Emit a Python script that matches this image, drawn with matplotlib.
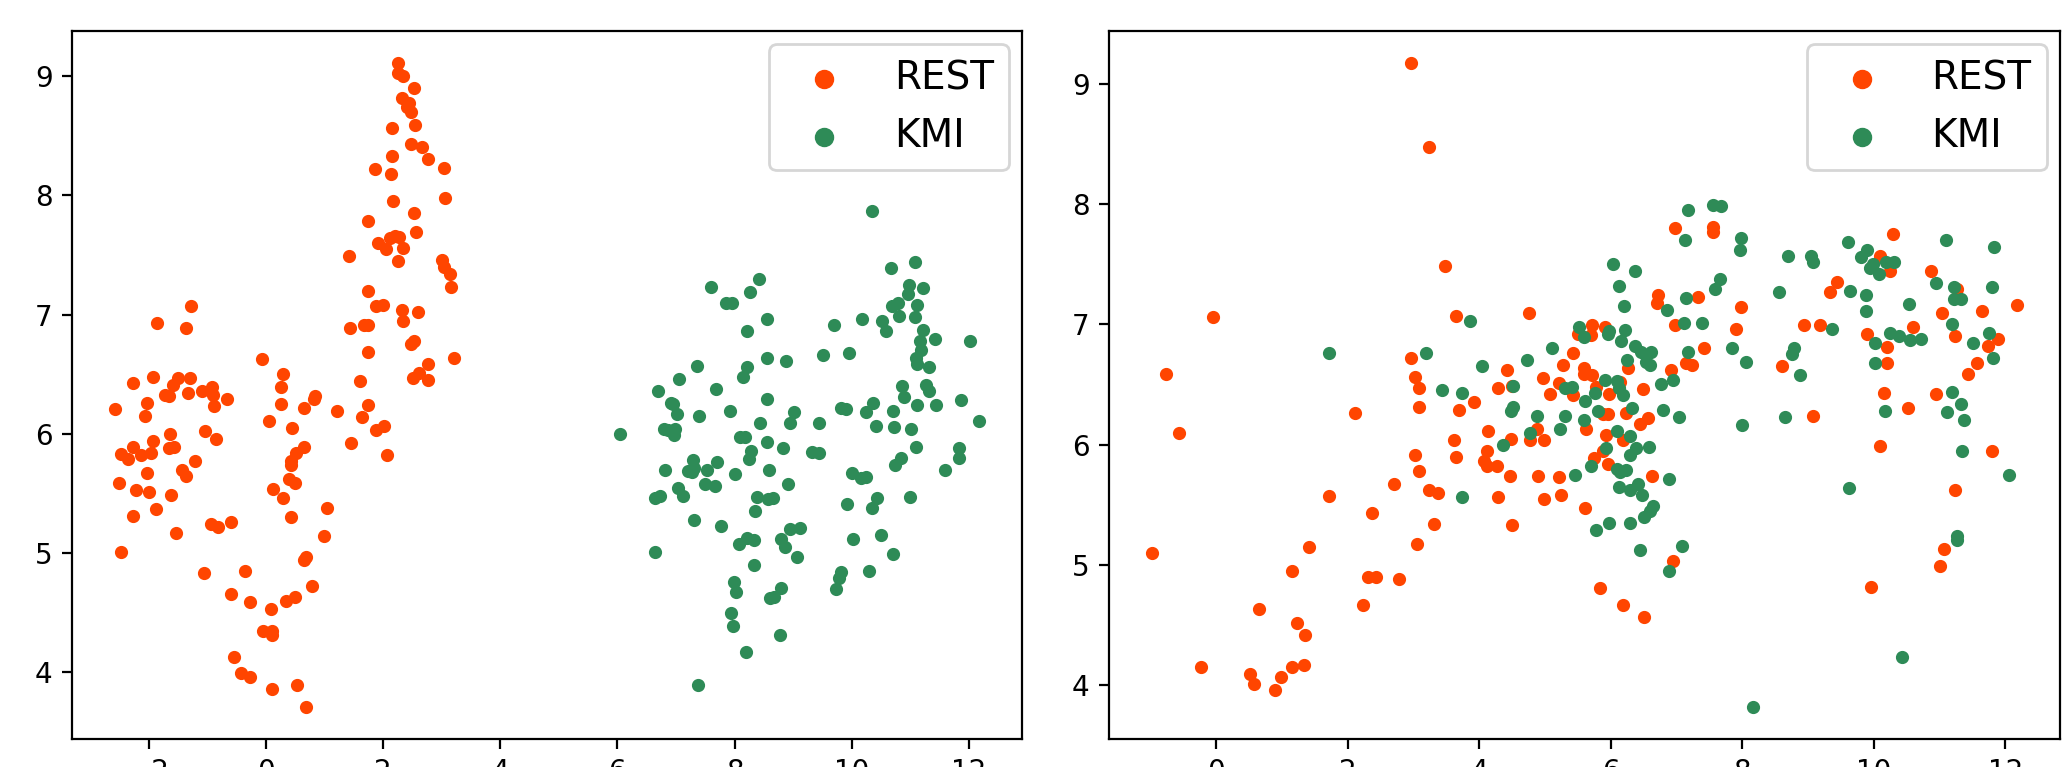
import matplotlib
matplotlib.use("Agg")
import matplotlib.pyplot as plt

# ---- left panel (embedding A) ----
left_rest_x = [2.26, 2.25, 2.34, 2.53, 2.32, 2.45, 2.41, 2.47, 2.54, 2.16, 2.15, 2.47, 2.67, 2.76,
               3.05, 1.87, 2.13, 3.06, 2.17, 2.53, 1.74, 2.57, 1.91, 2.12, 2.21, 2.27, 2.06, 2.35,
               2.25, 1.42, 3.01, 3.05, 3.15, 3.16, 1.74, 1.88, 2.00, 2.32, 2.60, 2.35, 1.43, 1.67,
               1.74, 1.74, 2.47, 2.53, 2.76, 2.61, 2.51, 2.77, 3.21, 1.60, 1.74, 1.65, 1.45, 1.88,
               2.01, 2.07, 1.21,
               -2.57, -2.47, -2.26, -2.35, -2.51, -2.21, -2.26, -2.47, -2.03, -2.06, -2.13, -1.96,
               -1.93, -2.03, -2.00, -1.87, -1.86, -1.92, -2.26, -1.72, -1.65, -1.58, -1.49, -1.29,
               -1.37, -1.28, -1.64, -1.65, -1.57, -1.61, -1.54, -1.43, -1.36, -1.20, -1.32, -1.09,
               -0.91, -0.90, -0.88, -0.67, -1.04, -0.85, -0.94, -0.81, -0.59, -1.06,
               -0.06, 0.05, 0.29, 0.26, 0.26, 0.44, 0.65, 0.84, 0.83, 0.66, 0.51, 0.43, 0.43, 0.40,
               0.50, 0.12, 0.29, 0.43, 1.04, 0.99, 0.68, 0.65, 0.79, 0.50, 0.35, 0.09, -0.35, -0.60,
               -0.27, -0.54, -0.43, -0.27, -0.05, 0.11, 0.10, 0.11, 0.53, 0.68]
left_rest_y = [9.11, 9.03, 9.00, 8.90, 8.82, 8.78, 8.74, 8.70, 8.59, 8.57, 8.33, 8.43, 8.41, 8.31,
               8.23, 8.22, 8.18, 7.98, 7.95, 7.85, 7.79, 7.69, 7.60, 7.64, 7.66, 7.65, 7.55, 7.56,
               7.45, 7.49, 7.46, 7.40, 7.34, 7.23, 7.20, 7.07, 7.08, 7.04, 7.02, 6.95, 6.89, 6.91,
               6.91, 6.69, 6.75, 6.78, 6.59, 6.51, 6.47, 6.45, 6.64, 6.44, 6.24, 6.14, 5.92, 6.03,
               6.07, 5.82, 6.19,
               6.21, 5.83, 5.89, 5.79, 5.59, 5.53, 5.31, 5.01, 6.26, 6.15, 5.82, 5.84,
               5.94, 5.67, 5.51, 5.37, 6.93, 6.48, 6.43, 6.33, 6.32, 6.41, 6.47, 6.47,
               6.89, 7.07, 6.00, 5.88, 5.89, 5.49, 5.17, 5.70, 5.65, 5.77, 6.34, 6.36,
               6.39, 6.33, 6.23, 6.29, 6.02, 5.96, 5.24, 5.22, 5.26, 4.83,
               6.63, 6.11, 6.50, 6.39, 6.25, 6.05, 6.22, 6.32, 6.29, 5.89, 5.84, 5.77, 5.74, 5.62,
               5.59, 5.54, 5.46, 5.30, 5.38, 5.14, 4.97, 4.94, 4.72, 4.63, 4.60, 4.53, 4.85, 4.66,
               4.59, 4.13, 3.99, 3.96, 4.35, 4.35, 4.31, 3.86, 3.89, 3.71]

left_kmi_x = [6.05, 6.70, 7.06, 7.36, 6.91, 6.95, 7.01, 7.39, 6.79, 6.86, 6.98, 6.96, 6.82, 7.29,
              7.20, 7.27, 7.31, 7.03, 7.12, 6.64, 6.72, 6.64, 7.30, 7.37,
              7.60, 7.86, 7.95, 8.26, 8.41, 8.21, 8.56, 8.56, 8.88, 8.22, 8.15, 7.68, 7.92, 8.56,
              9.02, 8.44, 8.95, 8.09, 8.18, 8.28, 8.24, 8.56, 8.82, 7.70, 7.53, 8.01, 8.59, 7.50,
              7.67, 8.92, 8.39, 8.57, 8.66, 8.35, 7.77, 8.07, 8.22, 8.33, 8.80, 8.86, 8.95, 9.12,
              9.07, 8.33, 7.99, 8.02, 8.80, 8.61, 8.67, 7.94, 7.97, 8.78, 8.19, 9.32, 9.44, 9.44,
              9.51, 9.70, 9.96, 10.17, 10.35, 10.67, 11.08, 10.97, 10.96, 11.22, 10.68, 10.79,
              11.11, 10.80, 11.08, 10.52, 10.58, 11.22, 11.17, 11.42, 11.19, 11.10, 11.11, 11.31,
              12.02, 10.86, 10.89, 11.27, 11.32, 11.12, 11.43, 11.86, 12.17, 9.81, 9.90, 10.24,
              10.37, 10.41, 10.70, 10.72, 11.01, 11.09, 11.83, 11.83, 10.84, 10.73, 11.59, 10.01,
              10.15, 10.25, 9.92, 10.35, 10.43, 11.00, 10.02, 10.50, 10.71, 10.29, 9.82, 9.78, 9.73]
left_kmi_y = [6.00, 6.36, 6.46, 6.57, 6.26, 6.25, 6.17, 6.15, 6.04, 6.03, 6.04, 5.99, 5.70, 5.78,
              5.69, 5.68, 5.71, 5.55, 5.48, 5.46, 5.48, 5.01, 5.28, 3.89,
              7.23, 7.10, 7.10, 7.19, 7.30, 6.86, 6.96, 6.64, 6.61, 6.56, 6.48, 6.38, 6.19, 6.29,
              6.18, 6.09, 6.09, 5.97, 5.97, 5.86, 5.79, 5.93, 5.88, 5.76, 5.70, 5.66, 5.70, 5.58,
              5.56, 5.58, 5.47, 5.45, 5.46, 5.35, 5.23, 5.08, 5.13, 5.11, 5.12, 5.05, 5.20, 5.21,
              4.97, 4.90, 4.76, 4.67, 4.71, 4.62, 4.63, 4.50, 4.39, 4.31, 4.17, 5.85, 5.84, 6.09,
              6.66, 6.91, 6.68, 6.96, 7.87, 7.39, 7.44, 7.25, 7.17, 7.22, 7.07, 7.10,
              7.08, 6.99, 6.98, 6.95, 6.86, 6.87, 6.78, 6.80, 6.70, 6.64, 6.59, 6.56,
              6.78, 6.40, 6.31, 6.41, 6.36, 6.24, 6.24, 6.28, 6.11, 6.22, 6.21, 6.18,
              6.26, 6.07, 6.19, 6.06, 6.04, 5.89, 5.88, 5.80, 5.80, 5.74, 5.70, 5.67,
              5.63, 5.64, 5.41, 5.38, 5.46, 5.47, 5.12, 5.15, 4.99, 4.85, 4.84, 4.79, 4.70]

# ---- right panel (embedding B) ----
right_rest_x = [2.96, 3.23, 3.48, 3.65, -0.05, 4.76, -0.76, -0.57, -0.97, 2.97, 3.02, 3.08, 3.09,
                2.11, 3.70, 3.92, 3.61, 3.65, 3.03, 3.08, 2.70, 3.24, 3.38, 1.72, 2.37, 3.32, 3.06,
                1.42, 1.16, 2.31, 2.43, 2.78, 2.23, 0.65, 1.23, 1.35, -0.23, 0.51, 0.57, 0.89, 0.99,
                1.16, 1.33, 4.13, 4.12, 4.07, 4.12, 4.27, 4.47, 4.28, 4.50, 4.49, 4.28, 4.43, 4.50,
                4.77, 4.88, 4.99, 4.97, 5.07, 5.22, 5.28, 5.43, 5.50, 5.43, 4.89, 5.22, 5.25, 4.99,
                5.71, 5.91, 5.70, 5.59, 5.59, 5.71, 5.78, 5.98, 5.96, 5.88, 5.63, 5.93, 6.18, 5.75,
                5.88, 5.96, 5.61, 5.83, 6.18, 6.50, 6.63, 6.45, 6.56, 6.23, 6.49, 6.26, 6.14, 6.91,
                7.14, 7.23, 7.42, 6.98, 6.72, 6.71, 7.33, 6.97, 7.56, 7.56, 7.98, 7.91, 8.60, 8.93,
                9.18, 9.07, 6.95, 9.33, 9.44, 9.90, 10.10, 10.29, 10.25, 10.20, 10.20, 10.16, 10.52,
                10.09, 10.59, 9.95, 10.87, 11.04, 11.26, 11.24, 10.95, 11.65, 11.43, 11.56, 11.73,
                11.89, 12.17, 11.79, 11.23, 11.07, 11.01]
right_rest_y = [9.17, 8.47, 7.48, 7.07, 7.06, 7.09, 6.59, 6.10, 5.10, 6.72, 6.56, 6.47, 6.31,
                6.26, 6.29, 6.35, 6.04, 5.90, 5.91, 5.78, 5.67, 5.62, 5.60, 5.57, 5.43, 5.34, 5.17,
                5.15, 4.95, 4.90, 4.90, 4.88, 4.67, 4.63, 4.52, 4.42, 4.15, 4.09, 4.01, 3.96, 4.07,
                4.15, 4.17, 6.11, 5.95, 5.86, 5.82, 5.82, 5.74, 5.56, 5.33, 6.05, 6.47, 6.62, 6.49,
                6.04, 6.13, 6.04, 6.55, 6.42, 6.51, 6.66, 6.76, 6.92, 6.41, 5.74, 5.73, 5.58, 5.55,
                6.99, 6.98, 6.91, 6.64, 6.59, 6.58, 6.48, 6.42, 6.25, 6.25, 6.13, 6.08, 6.04, 5.89,
                5.95, 5.84, 5.47, 4.81, 4.67, 4.57, 5.74, 6.17, 6.22, 6.26, 6.46, 6.64, 6.52, 6.62,
                6.68, 6.66, 6.80, 6.99, 7.24, 7.18, 7.23, 7.80, 7.81, 7.77, 7.14, 6.96, 6.65, 6.99,
                6.99, 6.24, 5.03, 7.27, 7.35, 6.92, 7.57, 7.75, 7.44, 6.81, 6.68, 6.43, 6.30,
                5.99, 6.98, 4.82, 7.44, 7.09, 7.29, 6.90, 6.42, 7.11, 6.59, 6.68, 6.82,
                6.88, 7.16, 5.95, 5.62, 5.13, 4.99]

right_kmi_x = [1.72, 3.19, 3.86, 3.43, 3.74, 4.05, 4.72, 5.10, 4.52, 4.48, 4.52, 4.88, 4.77, 4.36,
               5.31, 5.23, 5.31, 5.41, 3.74, 5.45, 5.52,
               5.59, 5.98, 5.96, 6.15, 6.21, 6.04, 6.37, 6.12, 6.20, 6.86, 7.14, 7.12, 7.38, 7.58,
               7.66, 7.13, 7.17, 7.55, 7.67, 7.98, 7.97, 8.69, 9.04, 9.08, 8.55, 7.84, 8.06, 7.18,
               6.37, 6.46, 6.61, 6.53, 6.59, 6.25, 5.92, 6.09, 6.13, 6.18, 5.76, 5.61, 5.80, 5.59,
               6.32, 6.80, 6.77, 6.94, 7.04, 6.09, 6.29, 5.93, 6.39, 6.30, 6.58, 5.70, 6.10, 6.14,
               6.23, 6.13, 6.30, 6.41, 6.47, 6.64, 6.59, 6.50, 6.89, 5.97, 6.29, 5.77, 6.45, 7.08,
               6.89, 7.99, 8.65, 8.87, 8.78, 8.75, 9.36, 9.64, 9.60, 9.81, 9.90, 9.98, 9.94, 10.07,
               10.18, 10.31, 9.88, 9.88, 10.02, 10.01, 10.24, 10.38, 10.53, 10.55, 10.71, 10.17,
               9.62, 10.43, 8.16, 11.09, 10.95, 11.21, 11.21, 11.32, 11.18, 11.50, 11.75, 11.81,
               11.79, 11.82, 11.18, 11.33, 11.11, 11.37, 11.34, 12.05, 11.26, 11.27]
right_kmi_y = [6.76, 6.76, 7.03, 6.45, 6.43, 6.65, 6.70, 6.80, 6.49, 6.28, 6.31, 6.24, 6.10, 6.00,
               6.24, 6.13, 6.47, 6.48, 5.56, 5.75, 6.98,
               6.89, 6.94, 6.92, 6.86, 6.95, 7.50, 7.44, 7.32, 7.15, 7.12, 7.22, 7.01, 7.01, 7.29,
               7.38, 7.70, 7.95, 7.99, 7.98, 7.72, 7.62, 7.57, 7.57, 7.52, 7.27, 6.80, 6.69, 6.77,
               6.82, 6.77, 6.77, 6.69, 6.66, 6.70, 6.54, 6.53, 6.47, 6.41, 6.43, 6.36, 6.28, 6.20,
               6.30, 6.29, 6.50, 6.54, 6.23, 6.11, 6.07, 5.97, 5.97, 5.91, 5.98, 5.82, 5.80, 5.77,
               5.79, 5.65, 5.62, 5.67, 5.58, 5.49, 5.45, 5.40, 5.71, 5.35, 5.35, 5.29, 5.12, 5.16,
               4.95, 6.16, 6.23, 6.58, 6.80, 6.75, 6.96, 7.28, 7.68, 7.56, 7.62, 7.50, 7.47, 7.42,
               7.52, 7.52, 7.24, 7.11, 6.84, 6.68, 6.93, 6.90, 7.17, 6.87, 6.88, 6.28,
               5.64, 4.23, 3.82, 7.70, 7.34, 7.31, 7.21, 7.21, 7.00, 6.84, 6.93, 6.72,
               7.31, 7.64, 6.44, 6.34, 6.27, 6.20, 5.95, 5.75, 5.24, 5.21]

labels = ["REST", "KMI"]
colors = ["orangered", "seagreen"]

fig = plt.figure(figsize=(10.345, 3.835), dpi=200)
ax1 = fig.add_axes([0.0348, 0.0365, 0.4592, 0.9231])
ax2 = fig.add_axes([0.5360, 0.0365, 0.4596, 0.9231])

panels = [
    (ax1, left_rest_x, left_rest_y, left_kmi_x, left_kmi_y),
    (ax2, right_rest_x, right_rest_y, right_kmi_x, right_kmi_y),
]
for ax, rx, ry, kx, ky in panels:
    ax.scatter(rx, ry, s=14, c=colors[0], label=labels[0])
    ax.scatter(kx, ky, s=14, c=colors[1], label=labels[1])
    ax.legend(loc="upper right", fontsize=14, markerscale=1.6, borderaxespad=0.33)

fig.savefig("out.png", dpi=200)
